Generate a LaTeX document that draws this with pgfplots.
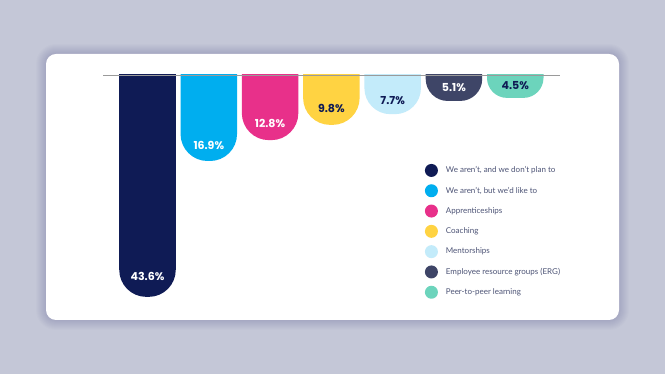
\documentclass[border=0pt]{standalone}
\usepackage{pgfplots}
\pgfplotsset{compat=1.18}
\usepackage{fontspec}
\setmainfont{Poppins}
\newfontfamily\legfont{Lato}
\definecolor{bgc}{HTML}{C4C7D7}
\definecolor{cnavy}{HTML}{0F1B55}
\definecolor{cblue}{HTML}{00AEEF}
\definecolor{cpink}{HTML}{E8308A}
\definecolor{cyellow}{HTML}{FFD342}
\definecolor{clight}{HTML}{C3EBFA}
\definecolor{cslate}{HTML}{3E4567}
\definecolor{cteal}{HTML}{6CD4BC}
\definecolor{legtext}{HTML}{4D5476}
\definecolor{axline}{HTML}{9A9A9A}
\begin{document}
\begin{tikzpicture}[x=1pt,y=1pt]
\fill[bgc] (0,0) rectangle (665,374);
\foreach \i in {1,...,10} {
  \fill[black!70!blue, opacity=0.012, rounded corners=10+\i] (46-\i,54-\i) rectangle (619+\i,320+\i);
}
\fill[white, rounded corners=10] (46,54) rectangle (619,320);
\begin{scope}
\clip (0,0) rectangle (665,299.2);
\begin{axis}[
  at={(103pt,339.71pt)}, anchor=north west,
  scale only axis, width=457pt, height=269.71pt,
  xmin=-0.726, xmax=6.73,
  ymin=0, ymax=53,
  y dir=reverse,
  axis lines=none,
  ybar, bar width=56.5pt, bar shift=0pt,
  y filter/.expression={y+8},
  point meta=explicit symbolic,
  nodes near coords,
  every node near coord/.append style={font=\fontsize{11}{13}\selectfont\bfseries, anchor=center},
  legend image code/.code={\fill (6.5pt,0pt) circle (6.5pt);},
  legend style={at={(axis description cs:0.704,0.52)}, anchor=north west,
    draw=none, fill=none, font=\legfont\fontsize{8}{10}\selectfont, text=legtext,
    row sep=7.3pt, inner sep=0pt, cells={anchor=west},
    /tikz/every odd column/.style={column sep=6pt}},
  legend cell align=left,
]
\addplot[fill=cnavy, draw=none, rounded corners=27pt, every node near coord/.append style={text=white, yshift=20.5pt}] coordinates {(0,43.6) [43.6\%]};
\addlegendentry{We aren’t, and we don’t plan to}
\addplot[fill=cblue, draw=none, rounded corners=27pt, every node near coord/.append style={text=white, yshift=16pt}] coordinates {(1,16.9) [16.9\%]};
\addlegendentry{We aren’t, but we’d like to}
\addplot[fill=cpink, draw=none, rounded corners=27pt, every node near coord/.append style={text=white, yshift=17pt}] coordinates {(2,12.8) [12.8\%]};
\addlegendentry{Apprenticeships}
\addplot[fill=cyellow, draw=none, rounded corners=27pt, every node near coord/.append style={text=cnavy, yshift=16pt}] coordinates {(3,9.8) [9.8\%]};
\addlegendentry{Coaching}
\addplot[fill=clight, draw=none, rounded corners=26pt, every node near coord/.append style={text=cnavy, yshift=14pt}] coordinates {(4,7.7) [7.7\%]};
\addlegendentry{Mentorships}
\addplot[fill=cslate, draw=none, rounded corners=22pt, every node near coord/.append style={text=white, yshift=13pt}] coordinates {(5,5.1) [5.1\%]};
\addlegendentry{Employee resource groups (ERG)}
\addplot[fill=cteal, draw=none, rounded corners=20pt, every node near coord/.append style={text=cnavy, yshift=12pt}] coordinates {(6,4.5) [4.5\%]};
\addlegendentry{Peer-to-peer learning}
\end{axis}
\end{scope}
\draw[axline, line width=0.9pt] (103,299) -- (560,299);
\end{tikzpicture}
\end{document}
